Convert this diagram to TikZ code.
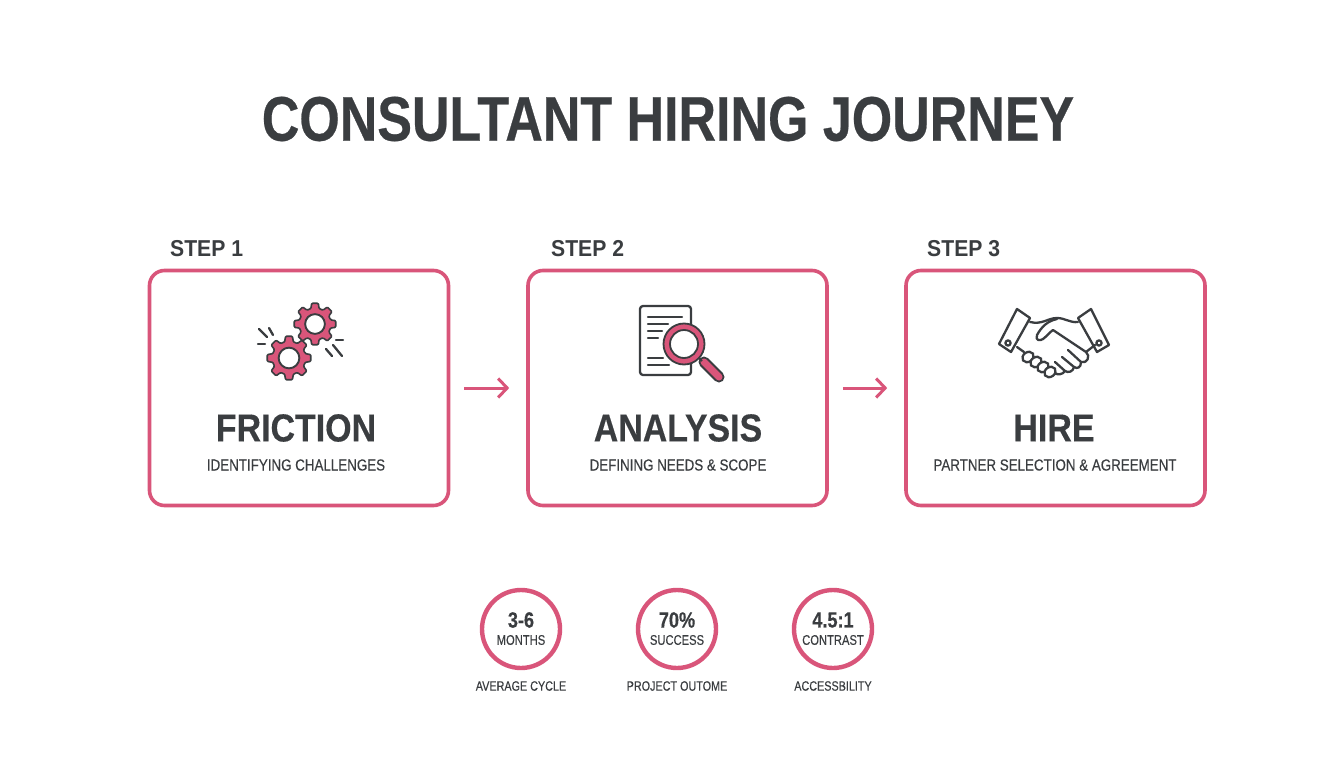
\documentclass[tikz,border=0pt]{standalone}
\usepackage{fontspec}
\setmainfont{Liberation Sans}
\newfontfamily\titlefont[FakeStretch=0.825,FakeBold=0.4]{Liberation Sans}
\newfontfamily\headfont[FakeStretch=0.87,FakeBold=0.3]{Liberation Sans}
\newfontfamily\stepfont[FakeStretch=0.92]{Liberation Sans}
\newfontfamily\notefont[FakeStretch=0.835,FakeBold=0.25]{Liberation Sans}
\newfontfamily\smallfont[FakeStretch=0.8,FakeBold=0.3]{Liberation Sans}
\definecolor{rosepink}{HTML}{D9557A}
\definecolor{inkgrey}{HTML}{3A3D40}
\usetikzlibrary{arrows.meta}
\tikzset{
  stepbox/.style={draw=rosepink,line width=3.6pt,rounded corners=15pt,minimum width=299pt,minimum height=235pt,inner sep=0pt},
  steplabel/.style={text=inkgrey,font=\stepfont\bfseries\fontsize{23}{23}\selectfont,anchor=west,inner sep=0pt},
  stagetitle/.style={text=inkgrey,font=\headfont\bfseries\fontsize{39}{39}\selectfont,inner sep=0pt},
  stagenote/.style={text=inkgrey,font=\notefont\fontsize{16}{16}\selectfont,inner sep=0pt},
  flowarrow/.style={draw=rosepink,line width=3pt,-{Straight Barb[length=9pt,width=19pt]},shorten <=14pt,shorten >=17pt},
  statring/.style={circle,draw=rosepink,line width=4.4pt,minimum size=78pt,inner sep=0pt},
  statvalue/.style={text=inkgrey,font=\titlefont\bfseries\fontsize{22}{22}\selectfont,inner sep=0pt},
  statunit/.style={text=inkgrey,font=\smallfont\fontsize{14}{14}\selectfont,inner sep=0pt},
  statnote/.style={text=inkgrey,font=\smallfont\fontsize{13.5}{13.5}\selectfont,inner sep=0pt},
  iconline/.style={draw=inkgrey,line width=2.3pt,line cap=round,line join=round},
}
\newcommand{\gearicon}[3]{% centre x, centre y, outer radius
  \filldraw[fill=rosepink,draw=inkgrey,line width=1.6pt,line join=round,rounded corners=1pt]
    (#1,#2) +(-15:#3*0.76)
    \foreach \a in {0,45,...,315} {
      -- +(\a-15:#3*0.76) -- +(\a-9:#3) -- +(\a+9:#3) -- +(\a+15:#3*0.76)
    } -- cycle;
  \filldraw[fill=white,draw=inkgrey,line width=1.9pt] (#1,#2) circle (#3*0.47);
}
\begin{document}
\begin{tikzpicture}[x=1pt,y=-1pt]
 \useasboundingbox (0,0) rectangle (1344,768);
 \fill[white] (0,0) rectangle (1344,768);
 %
 \node[text=inkgrey,font=\titlefont\bfseries\fontsize{63}{63}\selectfont,inner sep=0pt] (title) at (668,119) {CONSULTANT HIRING JOURNEY};
 %
 \node[stepbox] (friction) at (299,388) {};
 \node[stepbox] (analysis) at (677.5,388) {};
 \node[stepbox] (hire) at (1055.5,388) {};
 \node[steplabel] (step1) at (170,249) {STEP 1};
 \node[steplabel] (step2) at (551,249) {STEP 2};
 \node[steplabel] (step3) at (927,249) {STEP 3};
 \draw[flowarrow] (friction.east) -- (analysis.west);
 \draw[flowarrow] (analysis.east) -- (hire.west);
 %
 \node[stagetitle] (frictiontitle) at (296,428) {FRICTION};
 \node[stagenote] (frictionnote) at (296,465) {IDENTIFYING CHALLENGES};
 \node[stagetitle] (analysistitle) at (678,428) {ANALYSIS};
 \node[stagenote] (analysisnote) at (678,465) {DEFINING NEEDS \& SCOPE};
 \node[stagetitle] (hiretitle) at (1054,428) {HIRE};
 \node[stagenote] (hirenote) at (1055,465) {PARTNER SELECTION \& AGREEMENT};
 %
 % gears
 \gearicon{289}{358}{22}
 \gearicon{315}{324}{21}
 \draw[iconline] (259,329) -- (267,337);
 \draw[iconline] (269,328) -- (273,335);
 \draw[iconline] (258,344) -- (265,344);
 \draw[iconline] (336,340) -- (343,340);
 \draw[iconline] (326,349) -- (332,356);
 \draw[iconline] (333,345) -- (342,356);
 %
 % document and lens
 \draw[iconline,rounded corners=3pt] (640,306) rectangle (691,375);
 \foreach \y/\xa/\xb in {317/648/682,324/648/668,331/648/662,338/648/658,358/648/663,365/648/669}
   \draw[iconline] (\xa,\y) -- (\xb,\y);
 \draw[inkgrey,line width=11pt,line cap=round] (704,362) -- (719,377);
 \draw[rosepink,line width=7pt,line cap=round] (704,362) -- (719,377);
 \draw[inkgrey,line width=2pt] (697,356) -- (702,361);
 \filldraw[fill=rosepink,draw=inkgrey,line width=1.8pt] (684,344) circle (20.5);
 \filldraw[fill=white,draw=inkgrey,line width=1.8pt] (684,344) circle (14);
 %
 % handshake
 \draw[iconline] (1017,309) -- (1030,318) -- (1011,352) -- (999,344) -- cycle;
 \draw[iconline] (1078,318) -- (1091,309) -- (1109,345) -- (1097,352) -- cycle;
 \draw[iconline] (1008,343) circle (2.6);
 \draw[iconline] (1099,343) circle (2.6);
 \draw[iconline] (1030,322) .. controls (1042,325) and (1048,318) .. (1057,318) .. controls (1065,318) and (1070,323) .. (1078,322);
 \draw[iconline] (1057,319) .. controls (1048,321) and (1042,326) .. (1037,335) .. controls (1035,341) and (1040,341) .. (1043,339) .. controls (1047,336) and (1050,332) .. (1053,330) -- (1086,352) .. controls (1091,356) and (1087,364) .. (1081,362) -- (1068,350);
 \draw[iconline] (1081,362) .. controls (1081,368) and (1077,369) .. (1074,367) -- (1062,357);
 \draw[iconline] (1074,367) .. controls (1073,372) and (1068,373) .. (1065,371) -- (1055,362);
 \draw[iconline] (1065,371) .. controls (1062,375) and (1058,375) .. (1054,373);
 \draw[iconline] (1017,347) -- (1024,352);
 \draw[iconline] (1095,345) -- (1086,352);
 \foreach \x/\y in {1028/357,1036/362,1043/367,1050/372}
   \filldraw[fill=white,draw=inkgrey,line width=2.3pt,rotate around={35:(\x,\y)}] (\x,\y) ellipse (6 and 4.8);
 %
 % ratings
 \node[statring] (cycle) at (521,629) {};
 \node[statring] (success) at (677,629) {};
 \node[statring] (contrast) at (833,629) {};
 \node[statvalue] (cyclevalue) at (521,620) {3-6};
 \node[statunit] (cycleunit) at (521,640) {MONTHS};
 \node[statnote] (cyclenote) at (521,686) {AVERAGE CYCLE};
 \node[statvalue] (successvalue) at (677,620) {70\%};
 \node[statunit] (successunit) at (677,640) {SUCCESS};
 \node[statnote] (successnote) at (677,686) {PROJECT OUTOME};
 \node[statvalue] (contrastvalue) at (833,620) {4.5:1};
 \node[statunit] (contrastunit) at (833,640) {CONTRAST};
 \node[statnote] (contrastnote) at (833,686) {ACCESSBILITY};
\end{tikzpicture}
\end{document}
